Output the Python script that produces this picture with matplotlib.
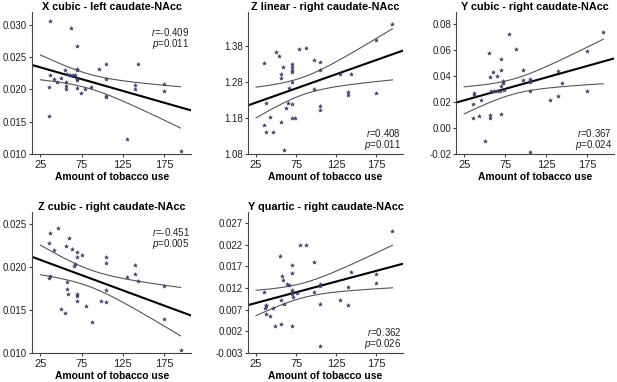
import numpy as np
import matplotlib
matplotlib.use('Agg')
import matplotlib.pyplot as plt
from matplotlib.ticker import FormatStrFormatter

plt.rcParams['font.family'] = ['Liberation Sans', 'DejaVu Sans']
plt.rcParams['mathtext.fontset'] = 'custom'
plt.rcParams['mathtext.rm'] = 'Liberation Sans'
plt.rcParams['mathtext.it'] = 'Liberation Sans:italic'

# panel 1: X cubic - left caudate-NAcc
x1 = [37, 62, 70, 70, 70, 96, 105, 143, 55, 57, 61, 65, 67, 70, 70, 37, 42, 50, 45, 56,
      35, 56, 56, 70, 74, 79, 87, 105, 105, 105, 140, 140, 175, 175, 35, 130, 195]
y1 = [0.0306, 0.0295, 0.0267, 0.0232, 0.0230, 0.0231, 0.0239, 0.0240, 0.0230, 0.0224,
      0.0222, 0.0222, 0.0222, 0.0216, 0.0214, 0.0222, 0.0216, 0.0218, 0.0211, 0.0212,
      0.0204, 0.0205, 0.0200, 0.0202, 0.0195, 0.0200, 0.0204, 0.0216, 0.0190, 0.0188,
      0.0207, 0.0200, 0.0208, 0.0198, 0.0158, 0.0123, 0.0104]

# panel 2: Z linear - right caudate-NAcc
x2 = [35, 50, 54, 58, 56, 56, 70, 70, 70, 70, 79, 87, 97, 105, 105, 130, 143, 175, 195,
      70, 66, 97, 140, 140, 175, 37, 65, 70, 62, 105, 105, 42, 56, 70, 74, 35, 37, 46, 60]
y2 = [1.334, 1.362, 1.351, 1.322, 1.301, 1.292, 1.330, 1.322, 1.313, 1.308, 1.372,
      1.374, 1.342, 1.335, 1.314, 1.301, 1.303, 1.397, 1.441, 1.280, 1.263, 1.261,
      1.252, 1.243, 1.250, 1.221, 1.223, 1.219, 1.207, 1.213, 1.202, 1.183, 1.168,
      1.179, 1.181, 1.161, 1.140, 1.142, 1.091]

# panel 3: Y cubic - right caudate-NAcc
x3 = [80, 195, 88, 55, 175, 70, 70, 60, 57, 65, 72, 72, 97, 97, 105, 105, 105, 140, 145,
      105, 175, 130, 140, 58, 61, 65, 69, 70, 74, 37, 37, 46, 36, 43, 36, 56, 56, 70, 50, 105]
y3 = [0.0725, 0.0737, 0.0609, 0.0581, 0.0594, 0.0529, 0.0449, 0.0428, 0.0395, 0.0397,
      0.0359, 0.0343, 0.0449, 0.0366, 0.0376, 0.0361, 0.0351, 0.0441, 0.0348, 0.0282,
      0.0288, 0.0218, 0.0246, 0.0282, 0.0282, 0.0285, 0.0285, 0.0320, 0.0290, 0.0269,
      0.0253, 0.0212, 0.0186, 0.0090, 0.0078, 0.0101, 0.0075, 0.0106, -0.0098, -0.0187]

# panel 4: Z cubic - right caudate-NAcc
x4 = [46, 37, 60, 35, 56, 42, 63, 70, 70, 75, 67, 66, 105, 105, 140, 140, 130, 144, 175,
      36, 37, 57, 57, 58, 70, 70, 70, 80, 98, 105, 105, 50, 55, 88, 175, 195]
y4 = [0.0245, 0.0240, 0.0234, 0.0228, 0.0224, 0.0220, 0.0221, 0.0218, 0.0212, 0.0214,
      0.0203, 0.0201, 0.0212, 0.0205, 0.0202, 0.0192, 0.0188, 0.0184, 0.0178, 0.0187,
      0.0189, 0.0183, 0.0174, 0.0169, 0.0169, 0.0166, 0.0161, 0.0155, 0.0160, 0.0173,
      0.0159, 0.0151, 0.0147, 0.0136, 0.0139, 0.0104]

# panel 5: Y quartic - right caudate-NAcc
x5 = [195, 80, 87, 55, 97, 70, 70, 57, 58, 64, 66, 143, 175, 175, 35, 70, 70, 70, 76, 71,
      56, 60, 105, 105, 97, 105, 130, 140, 140, 37, 36, 38, 46, 37, 42, 49, 56, 70, 105]
y5 = [0.0251, 0.0220, 0.0220, 0.0193, 0.0180, 0.0173, 0.0155, 0.0147, 0.0138, 0.0128,
      0.0126, 0.0156, 0.0153, 0.0131, 0.0111, 0.0115, 0.0110, 0.0107, 0.0108, 0.0100,
      0.0092, 0.0084, 0.0129, 0.0124, 0.0110, 0.0083, 0.0091, 0.0121, 0.0080, 0.0080,
      0.0073, 0.0078, 0.0074, 0.0060, 0.0055, 0.0033, 0.0037, 0.0033, -0.0014]

titles = ['X cubic - left caudate-NAcc', 'Z linear - right caudate-NAcc',
          'Y cubic - right caudate-NAcc', 'Z cubic - right caudate-NAcc',
          'Y quartic - right caudate-NAcc']
r_labels = ['-0.409', '0.408', '0.367', '-0.451', '0.362']
p_labels = ['0.011', '0.011', '0.024', '0.005', '0.026']
xticks = [25, 75, 125, 175]

panels = [
    dict(x=x1, y=y1, rect=[0.052, 0.597, 0.258, 0.372], ylim=(0.010, 0.032),
         yticks=np.arange(0.010, 0.0301, 0.005), fmt='%.3f', top=True),
    dict(x=x2, y=y2, rect=[0.402, 0.597, 0.251, 0.372], ylim=(1.08, 1.475),
         yticks=[1.08, 1.18, 1.28, 1.38], fmt='%.2f', top=False),
    dict(x=x3, y=y3, rect=[0.739, 0.597, 0.256, 0.372], ylim=(-0.02, 0.0895),
         yticks=np.arange(-0.02, 0.081, 0.02), fmt='%.2f', top=False),
    dict(x=x4, y=y4, rect=[0.052, 0.076, 0.258, 0.369], ylim=(0.010, 0.0264),
         yticks=np.arange(0.010, 0.0251, 0.005), fmt='%.3f', top=True),
    dict(x=x5, y=y5, rect=[0.402, 0.076, 0.251, 0.369], ylim=(-0.003, 0.0295),
         yticks=np.arange(-0.003, 0.0271, 0.005), fmt='%.3f', top=False),
]

fig = plt.figure(figsize=(6.17, 3.82), dpi=100)
xlim = (15, 208)

for i, pn in enumerate(panels):
    ax = fig.add_axes(pn['rect'])
    x = np.array(pn['x'], dtype=float)
    y = np.array(pn['y'], dtype=float)

    # least squares fit and 95% confidence band
    n = len(x)
    b, a = np.polyfit(x, y, 1)
    resid = y - (a + b * x)
    s = np.sqrt(np.sum(resid ** 2) / (n - 2))
    sxx = np.sum((x - x.mean()) ** 2)
    xs = np.linspace(25, x.max(), 200)
    half = 2.03 * s * np.sqrt(1.0 / n + (xs - x.mean()) ** 2 / sxx)
    fit = a + b * xs
    ax.plot(xs, fit + half, color='#555555', lw=0.8)
    ax.plot(xs, fit - half, color='#555555', lw=0.8)
    xl = np.array(xlim, dtype=float)
    ax.plot(xl, a + b * xl, color='black', lw=1.5)

    ax.plot(x, y, linestyle='none', marker='*', markersize=3, color='#3a3a70',
            markeredgewidth=0.3)

    ax.set_xlim(xlim)
    ax.set_ylim(pn['ylim'])
    ax.set_xticks(xticks)
    ax.set_yticks(pn['yticks'])
    ax.yaxis.set_major_formatter(FormatStrFormatter(pn['fmt']))
    for side in ['top', 'right']:
        ax.spines[side].set_visible(False)
    for side in ['left', 'bottom']:
        ax.spines[side].set_color('#444444')
        ax.spines[side].set_linewidth(0.8)
    ax.tick_params(length=2.5, width=0.8, color='#444444', labelcolor='#222222')
    ax.tick_params(axis='x', labelsize=8, pad=1.5)
    ax.tick_params(axis='y', labelsize=7, pad=1)
    ax.set_title(titles[i], fontsize=7.8, fontweight='bold', pad=1.5)
    ax.set_xlabel('Amount of tobacco use', fontsize=7.4, fontweight='bold', labelpad=2)

    if pn['top']:
        ty = [0.86, 0.775]
    else:
        ty = [0.148, 0.063]
    ax.text(0.99, ty[0], '$r$=' + r_labels[i], transform=ax.transAxes,
            ha='right', va='center', fontsize=7, color='#222222')
    ax.text(0.99, ty[1], '$p$=' + p_labels[i], transform=ax.transAxes,
            ha='right', va='center', fontsize=7, color='#222222')

fig.savefig('out.png', dpi=100)
